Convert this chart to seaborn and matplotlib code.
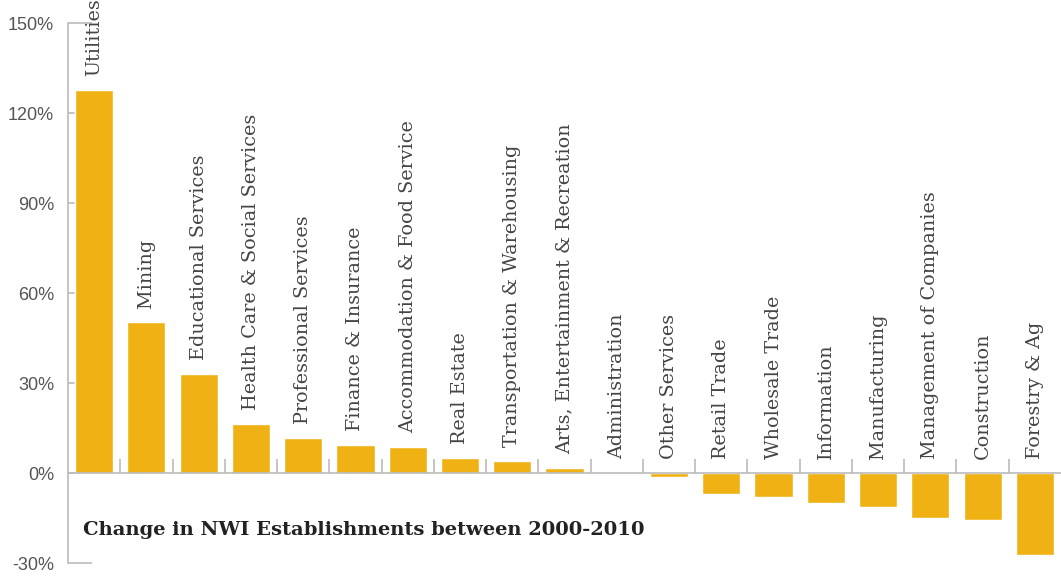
import matplotlib
import matplotlib.pyplot as plt
import seaborn as sns
import pandas as pd
import numpy as np

matplotlib.use("Agg")

industries = ["Utilities", "Mining", "Educational Services", "Health Care & Social Services",
              "Professional Services", "Finance & Insurance", "Accommodation & Food Service",
              "Real Estate", "Transportation & Warehousing", "Arts, Entertainment & Recreation",
              "Administration", "Other Services", "Retail Trade", "Wholesale Trade",
              "Information", "Manufacturing", "Management of Companies", "Construction",
              "Forestry & Ag"]
change_pct = [127.7, 50.3, 33.0, 16.3, 11.7, 9.3, 8.7, 5.0, 4.0, 1.6,
              -0.3, -1.4, -7.0, -8.0, -10.0, -11.4, -15.0, -15.6, -27.4]
y_ticks = [-30, 0, 30, 60, 90, 120, 150]

sns.set_theme(style="white")
plt.rcParams['font.family'] = ['DejaVu Serif']

df = pd.DataFrame({"industry": industries, "change": change_pct})

fig = plt.figure(figsize=(10.61, 5.76), dpi=100)
ax = fig.add_axes([68 / 1061, 13 / 576, 1 - 68 / 1061, 540 / 576])
sns.barplot(data=df, x="industry", y="change", color="#F0B114", saturation=1,
            width=0.73, ax=ax)
ax.set_xlim(-0.5, len(industries) - 0.5)
ax.set_ylim(-30, 150)
ax.set_xlabel("")
ax.set_ylabel("")

grey = "#bbbbbb"
for s in ["top", "right"]:
    ax.spines[s].set_visible(False)
ax.spines["left"].set_color(grey)
ax.spines["left"].set_linewidth(1.2)
ax.spines["bottom"].set_color(grey)
ax.spines["bottom"].set_linewidth(1.2)
ax.spines["bottom"].set_position(("data", 0))
ax.set_axisbelow(True)

ax.set_yticks(y_ticks)
ax.set_yticklabels([f"{t}%" for t in y_ticks], family="Liberation Sans", fontsize=13, color="#555555")
ax.tick_params(axis="y", direction="in", length=17, width=1.2, color=grey, pad=10, left=True)

ax.set_xticks(np.arange(len(industries)))
ax.set_xticklabels([])
ax.tick_params(axis="x", which="major", length=0)
ax.set_xticks(np.arange(len(industries) - 1) + 0.5, minor=True)
ax.tick_params(axis="x", which="minor", direction="in", length=10, width=1.2, color=grey, bottom=True)

for i, (name, v) in enumerate(zip(industries, change_pct)):
    ax.annotate(name, xy=(i, max(v, 0)), xytext=(0, 10), textcoords="offset points",
                rotation=90, ha="center", va="bottom", fontsize=13.8, color="#444444",
                family="DejaVu Serif", fontweight="light")

ax.text(0.015, 0.061, "Change in NWI Establishments between 2000-2010", transform=ax.transAxes,
        fontsize=14, fontweight="bold", color="#222222", family="DejaVu Serif", va="center")

fig.savefig("out.png", dpi=100)
